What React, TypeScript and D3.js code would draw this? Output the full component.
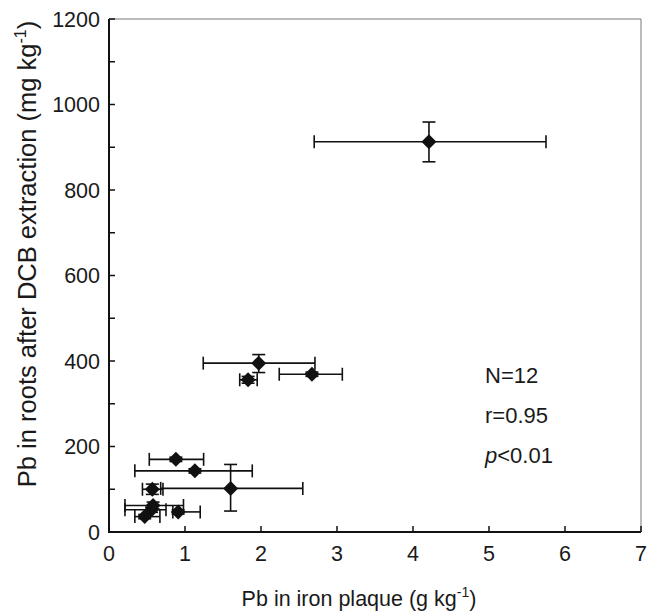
import React from "react";
import { scaleLinear, range } from "d3";

// Pb in iron plaque (g/kg) with error bar ends
const plaque = [4.21, 1.97, 2.67, 1.83, 0.88, 1.13, 1.6, 0.57, 0.58, 0.56, 0.91, 0.47];
const plaqueLo = [2.7, 1.24, 2.24, 1.72, 0.53, 0.34, 0.68, 0.44, 0.21, 0.21, 0.84, 0.34];
const plaqueHi = [5.75, 2.71, 3.07, 1.95, 1.245, 1.885, 2.55, 0.71, 0.98, 0.75, 1.2, 0.67];

// Pb in roots after DCB extraction (mg/kg) with error bar ends
const roots = [913, 395, 369, 356, 170, 143, 102, 100, 62, 52, 47, 36];
const rootsLo = [866, 373, 364, 348, 165, 138, 49, 88, 54, 46, 42, 31];
const rootsHi = [959, 415, 374, 364, 175, 148, 158, 112, 70, 58, 52, 41];

const xTicks = [0, 1, 2, 3, 4, 5, 6, 7];
const yTicks = range(0, 1201, 100);
const yLabels = [0, 200, 400, 600, 800, 1000, 1200];

const stats = ["N=12", "r=0.95", "p<0.01"];

const W = 661;
const H = 613;
const margin = { top: 19, right: 20, bottom: 81, left: 109 };
const font = "'Liberation Sans', Arial, Helvetica, sans-serif";

export default function App() {
  const x = scaleLinear().domain([0, 7]).range([margin.left, W - margin.right]);
  const y = scaleLinear().domain([0, 1200]).range([H - margin.bottom, margin.top]);
  const x0 = x(0);
  const x1 = x(7);
  const y0 = y(0);
  const y1 = y(1200);
  const cap = 6.5;
  const d = 7.5;

  return (
    <svg width={W} height={H} style={{ position: "absolute", left: 0, top: 0 }}>
      <rect width={W} height={H} fill="#fff" />
      {/* frame: top and right in grey */}
      <line x1={x0} x2={x1} y1={y1} y2={y1} stroke="#777" strokeWidth={1} />
      <line x1={x1} x2={x1} y1={y1} y2={y0} stroke="#777" strokeWidth={1} />

      {/* y ticks */}
      {yTicks.map((t) => (
        <line key={"yt" + t} x1={x0} x2={x0 + 6} y1={y(t)} y2={y(t)} stroke="#111" strokeWidth={1.5} />
      ))}
      {yLabels.map((t) => (
        <text key={"yl" + t} x={x0 - 9} y={y(t)} dy="0.36em" textAnchor="end" fontFamily={font} fontSize={21.5} fill="#1a1a1a">
          {t}
        </text>
      ))}

      {/* x ticks */}
      {xTicks.map((t) => (
        <g key={"xt" + t}>
          <line x1={x(t)} x2={x(t)} y1={y0} y2={y0 - 6} stroke="#111" strokeWidth={1.5} />
          <text x={x(t)} y={y0 + 29} textAnchor="middle" fontFamily={font} fontSize={21.5} fill="#1a1a1a">
            {t}
          </text>
        </g>
      ))}

      {/* axes */}
      <line x1={x0} x2={x0} y1={y1} y2={y0 + 1} stroke="#111" strokeWidth={2} />
      <line x1={x0 - 1} x2={x1} y1={y0} y2={y0} stroke="#111" strokeWidth={2} />

      {/* error bars and points */}
      {roots.map((v, i) => {
        const cx = x(plaque[i]);
        const cy = y(v);
        return (
          <g key={"p" + i} stroke="#111" strokeWidth={1.6}>
            <line x1={x(plaqueLo[i])} x2={x(plaqueHi[i])} y1={cy} y2={cy} />
            <line x1={x(plaqueLo[i])} x2={x(plaqueLo[i])} y1={cy - cap} y2={cy + cap} />
            <line x1={x(plaqueHi[i])} x2={x(plaqueHi[i])} y1={cy - cap} y2={cy + cap} />
            <line x1={cx} x2={cx} y1={y(rootsLo[i])} y2={y(rootsHi[i])} />
            <line x1={cx - cap} x2={cx + cap} y1={y(rootsLo[i])} y2={y(rootsLo[i])} />
            <line x1={cx - cap} x2={cx + cap} y1={y(rootsHi[i])} y2={y(rootsHi[i])} />
            <path d={`M${cx},${cy - d}L${cx + d},${cy}L${cx},${cy + d}L${cx - d},${cy}Z`} fill="#111" stroke="none" />
          </g>
        );
      })}

      {/* stats */}
      {stats.map((s, i) => (
        <text key={s} x={485} y={383 + i * 40} fontFamily={font} fontSize={22} fill="#1a1a1a">
          {i === 2 ? (
            <>
              <tspan fontStyle="italic">p</tspan>
              {s.slice(1)}
            </>
          ) : (
            s
          )}
        </text>
      ))}

      {/* axis titles */}
      <text x={359} y={606} textAnchor="middle" fontFamily={font} fontSize={21.5} fill="#1a1a1a">
        Pb in iron plaque (g kg<tspan fontSize={14} dy={-9}>-1</tspan>
        <tspan dy={9}>)</tspan>
      </text>
      <text
        transform="translate(36,254) rotate(-90)"
        textAnchor="middle"
        fontFamily={font}
        fontSize={25.5}
        fill="#1a1a1a"
      >
        Pb in roots after DCB extraction (mg kg<tspan fontSize={16} dy={-10}>-1</tspan>
        <tspan dy={10}>)</tspan>
      </text>
    </svg>
  );
}
